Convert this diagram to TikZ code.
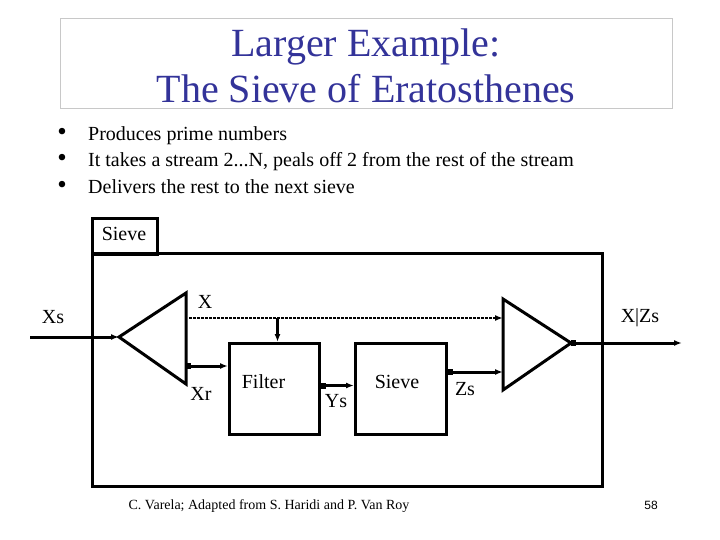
\documentclass[tikz,border=0pt]{standalone}
\usepackage{fontspec}
\setmainfont{Liberation Serif}
\newfontfamily\pagenofont{Liberation Sans}
\usetikzlibrary{arrows.meta,positioning,calc}
\definecolor{titleblue}{RGB}{51,51,153}
\definecolor{framegray}{RGB}{200,200,200}

\begin{document}
\begin{tikzpicture}[x=1pt, y=-1pt,
		box/.style={draw, rectangle, line width=3pt, inner sep=0pt},
		lbl/.style={font=\fontsize{20}{24}\selectfont, inner sep=0pt},
		bullet/.style={font=\fontsize{20}{24}\selectfont, inner sep=0pt, anchor=base west},
		dotmark/.style={font=\fontsize{27}{30}\selectfont, inner sep=0pt, anchor=center},
		arrow/.style={-{Latex[length=8pt,width=6pt]}, line width=3pt},
		sqarrow/.style={{Square[length=5pt,width=6pt]}-{Latex[length=8pt,width=6pt]}, line width=3pt}]

	\useasboundingbox (0,0) rectangle (720,540);

	% title
	\node [draw=framegray, line width=0.8pt, rectangle, minimum width=612pt, minimum height=90pt, anchor=north west] (titlebox) at (60,18) {};
	\node [font=\fontsize{40}{46}\selectfont, text=titleblue, inner sep=0pt, anchor=base] (titleA) at (366,57) {Larger Example:};
	\node [font=\fontsize{40}{46}\selectfont, text=titleblue, inner sep=0pt, anchor=base] (titleB) at (366,103) {The Sieve of Eratosthenes};

	% bullets
	\node [dotmark] (dot1) at (62,134) {•};
	\node [bullet] (item1) at (88,141) {Produces prime numbers};
	\node [dotmark] (dot2) at (62,160) {•};
	\node [bullet] (item2) at (88,167) {It takes a stream 2...N, peals off 2 from the rest of the stream};
	\node [dotmark] (dot3) at (62,187) {•};
	\node [bullet] (item3) at (88,194) {Delivers the rest to the next sieve};

	% sieve component
	\node [box, minimum width=65pt, minimum height=36pt, anchor=north west] (tag) at (91,217) {};
	\node [lbl] (tagtext) at ($(tag.center)+(-1,-3)$) {Sieve};
	\node [box, minimum width=510pt, minimum height=233pt, anchor=north west] (outer) at (91,252) {};
	\node [box, minimum width=90pt, minimum height=91pt, anchor=north west] (filter) at (228,342) {};
	\node [box, minimum width=91pt, minimum height=91pt, anchor=north west] (inner) at (354,342) {};
	\node [lbl] (filtertext) at ($(filter.center)+(-11,-7)$) {Filter};
	\node [lbl] (innertext) at ($(inner.center)+(-4,-7)$) {Sieve};

	% split and merge
	\coordinate (ltip) at (119,337);
	\coordinate (ltop) at (186,293);
	\coordinate (lbot) at (186,384);
	\coordinate (rtop) at (503,299);
	\coordinate (rbot) at (503,390);
	\coordinate (rtip) at (571,343);
	\draw [line width=3pt, line join=miter] (ltip) -- (ltop) -- (lbot) -- cycle;
	\draw [line width=3pt, line join=miter] (rtip) -- (rtop) -- (rbot) -- cycle;

	\coordinate (xsin) at (30,337);
	\coordinate (xsplit) at (189,318);
	\coordinate (xrout) at (186,366);
	\coordinate (zsin) at (503,372);
	\coordinate (xzsout) at (682,343);

	\draw [arrow] (xsin) -- (ltip);
	\draw [arrow, densely dotted, line width=2.2pt] (xsplit) -- (xsplit -| rtop);
	\draw [arrow] ([xshift=3pt]filter.north |- xsplit) -- ([xshift=3pt]filter.north);
	\draw [sqarrow] (xrout) -- (xrout -| filter.west);
	\draw [sqarrow] ([yshift=3.5pt]filter.east) -- ([yshift=3.5pt]inner.west);
	\draw [sqarrow] (inner.east |- zsin) -- (zsin);
	\draw [sqarrow] (rtip) -- (xzsout);

	% stream labels
	\node [lbl] (xs) at (53,317) {Xs};
	\node [lbl] (x) at (205,302) {X};
	\node [lbl] (xr) at (201,394) {Xr};
	\node [lbl] (ys) at (336,401) {Ys};
	\node [lbl] (zs) at (465,389) {Zs};
	\node [lbl] (xzs) at (640,318) {X|Zs};

	% footer
	\node [font=\fontsize{14}{16}\selectfont, inner sep=0pt, anchor=base] (credit) at (269,509) {C. Varela; Adapted from S. Haridi and P. Van Roy};
	\node [font=\pagenofont\fontsize{12}{14}\selectfont, inner sep=0pt, anchor=base] (pageno) at (651,509) {58};

\end{tikzpicture}
\end{document}
